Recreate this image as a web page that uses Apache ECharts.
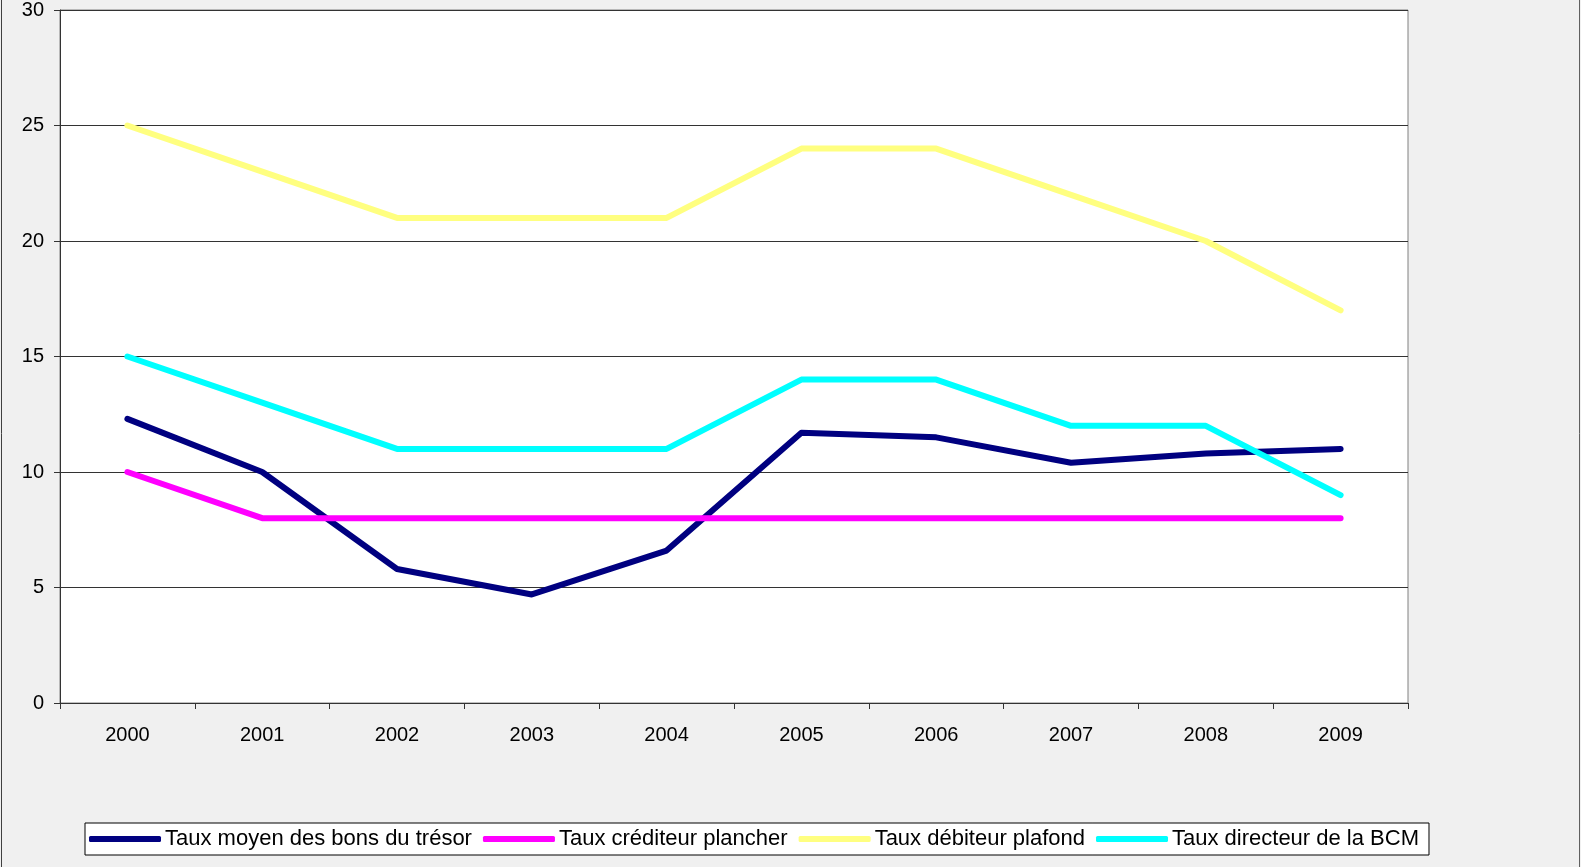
<!DOCTYPE html>
<html>
<head>
<meta charset="utf-8">
<title>Taux</title>
<script src="https://cdn.jsdelivr.net/npm/echarts@6/dist/echarts.min.js"></script>
<style>
  html, body { margin: 0; padding: 0; background: #f0f0f0; }
  #chart { width: 1581px; height: 867px; }
</style>
</head>
<body>
<div id="chart"></div>
<script>
// années
var years = ['2000', '2001', '2002', '2003', '2004', '2005', '2006', '2007', '2008', '2009'];

// séries (en %)
var tauxBons = [12.3, 10.0, 5.8, 4.7, 6.6, 11.7, 11.5, 10.4, 10.8, 11.0];
var tauxCrediteur = [10, 8, 8, 8, 8, 8, 8, 8, 8, 8];
var tauxDebiteur = [25, 23, 21, 21, 21, 24, 24, 22, 20, 17];
var tauxDirecteur = [15, 13, 11, 11, 11, 14, 14, 12, 12, 9];

var seriesNames = [
	'Taux moyen des bons du trésor',
	'Taux créditeur plancher',
	'Taux débiteur plafond',
	'Taux directeur de la BCM'
];
var seriesColors = ['#000080', '#ff00ff', '#ffff80', '#00ffff'];

var makeLine = function (i, data) {
	return {
		name: seriesNames[i],
		type: 'line',
		data: data,
		symbol: 'none',
		animation: false,
		itemStyle: { color: seriesColors[i] },
		lineStyle: { color: seriesColors[i], width: 6, cap: 'round', join: 'round' }
	};
};

var chart = echarts.init(document.getElementById('chart'));

var option = {
	backgroundColor: '#f0f0f0',
	textStyle: { fontFamily: 'Liberation Sans, Arial, sans-serif' },
	graphic: [
		// cadre gauche / droit
		{ type: 'line', shape: { x1: 1.5, y1: 0, x2: 1.5, y2: 867 }, style: { stroke: '#404040', lineWidth: 1 } },
		{ type: 'line', shape: { x1: 1579.5, y1: 0, x2: 1579.5, y2: 867 }, style: { stroke: '#606060', lineWidth: 1 } }
	],
	grid: {
		left: 60,
		right: 173,
		top: 10,
		bottom: 164,
		show: true,
		backgroundColor: '#ffffff',
		borderColor: '#808080',
		borderWidth: 1
	},
	legend: {
		left: 85,
		top: 823,
		orient: 'horizontal',
		padding: [5, 10, 5, 4],
		itemGap: 11,
		itemWidth: 72,
		itemHeight: 6,
		icon: 'roundRect',
		backgroundColor: '#ffffff',
		borderColor: '#000000',
		borderWidth: 1,
		borderRadius: 0,
		textStyle: { fontSize: 22, color: '#000', padding: [0, 0, 0, -1] },
		data: seriesNames
	},
	xAxis: {
		type: 'category',
		data: years,
		boundaryGap: true,
		axisLine: { lineStyle: { color: '#333', width: 1 } },
		axisTick: { show: true, length: 6, lineStyle: { color: '#333' } },
		axisLabel: { color: '#000', fontSize: 20, margin: 22 }
	},
	yAxis: {
		type: 'value',
		min: 0,
		max: 30,
		interval: 5,
		axisLine: { show: true, lineStyle: { color: '#333', width: 1 } },
		axisTick: { show: true, length: 6, lineStyle: { color: '#333' } },
		axisLabel: { color: '#000', fontSize: 20, margin: 16 },
		splitLine: { show: true, lineStyle: { color: '#333', width: 1 } }
	},
	series: [
		makeLine(0, tauxBons),
		makeLine(1, tauxCrediteur),
		makeLine(2, tauxDebiteur),
		makeLine(3, tauxDirecteur)
	]
};

chart.setOption(option);
</script>
</body>
</html>
